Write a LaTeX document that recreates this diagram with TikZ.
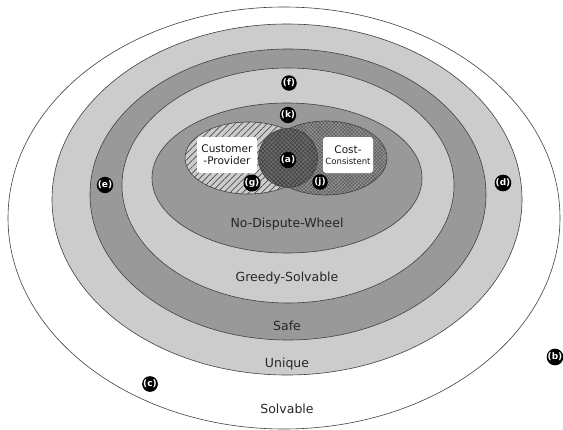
\documentclass[tikz,border=0pt]{standalone}
\usepackage{fontspec}
\setmainfont{DejaVu Sans}
\usepackage{tikz}
\usetikzlibrary{patterns.meta}

\definecolor{ringlight}{gray}{0.80}
\definecolor{ringdark}{gray}{0.60}
\definecolor{venncc}{gray}{0.58}
\definecolor{venncore}{gray}{0.42}

\newcommand{\tagfont}{\fontsize{9}{9}\selectfont\bfseries}
\newcommand{\setfont}{\fontsize{12.5}{14}\selectfont}
\newcommand{\boxfont}{\fontsize{10.5}{12}\selectfont}

\tikzset{
  ring/.style={draw=black!75, line width=0.6pt},
  tag/.style={circle, fill=black, text=white, inner sep=0pt, minimum size=15.5pt, font=\tagfont},
  setlbl/.style={font=\setfont, text=black!85},
  namebox/.style={fill=white, rounded corners=3pt, align=center, inner sep=1pt, font=\boxfont, text=black!90}
}

\begin{document}
\begin{tikzpicture}[x=1pt, y=-1pt]
  \useasboundingbox (0,0) rectangle (563,429);

  % Nested rings, outermost first
  \foreach \cx/\cy/\rx/\ry/\col in {284/218/276/211/white,
      287/199.5/235/175.5/ringlight, 288/194.5/198/145.5/ringdark,
      288/185.5/166/117.5/ringlight, 287/178/135/75/ringdark}
    \filldraw[ring, fill=\col] (\cx,\cy) ellipse [x radius=\rx pt, y radius=\ry pt];

  % Customer-Provider
  \fill[ringlight] (248,158) ellipse [x radius=63pt, y radius=36pt];
  \fill[pattern={Lines[angle=45, distance=4.5pt, line width=0.7pt]}, pattern color=black!70]
    (248,158) ellipse [x radius=63pt, y radius=36pt];
  \draw[ring] (248,158) ellipse [x radius=63pt, y radius=36pt];

  % Cost-Consistent
  \fill[venncc] (326,158) ellipse [x radius=61pt, y radius=37pt];
  \fill[pattern={Hatch[angle=45, distance=2.5pt, line width=0.5pt]}, pattern color=black!65]
    (326,158) ellipse [x radius=61pt, y radius=37pt];
  \draw[ring] (326,158) ellipse [x radius=61pt, y radius=37pt];

  % Overlap
  \fill[venncore] (288,158) circle (29.5pt);
  \fill[pattern={Hatch[angle=45, distance=3pt, line width=0.6pt]}, pattern color=black!75]
    (288,158) circle (29.5pt);
  \draw[ring] (288,158) circle (29.5pt);

  % Name boxes
  \node[namebox, minimum width=60pt, minimum height=36pt] (cp) at (227,155) {Customer\\-Provider};
  \node[namebox, minimum width=50pt, minimum height=36pt] (cc) at (348,155)
    {Cost-\\[-1pt]{\fontsize{8.5}{10}\selectfont Consistent}};

  % Ring names
  \node[setlbl] (ndw) at (287,224) {No-Dispute-Wheel};
  \node[setlbl] (greedy) at (287,278) {Greedy-Solvable};
  \node[setlbl] (safe) at (287,326) {Safe};
  \node[setlbl] (unique) at (287,364) {Unique};
  \node[setlbl] (solvable) at (287,409) {Solvable};

  % Region tags
  \node[tag] (a) at (288,160) {(a)};
  \node[tag] (b) at (555,357) {(b)};
  \node[tag] (c) at (150,384) {(c)};
  \node[tag] (d) at (503,183) {(d)};
  \node[tag] (e) at (105,185) {(e)};
  \node[tag] (f) at (289,83) {(f)};
  \node[tag] (g) at (252,183) {(g)};
  \node[tag] (j) at (320,182) {(j)};
  \node[tag] (k) at (288,115) {(k)};
\end{tikzpicture}
\end{document}
